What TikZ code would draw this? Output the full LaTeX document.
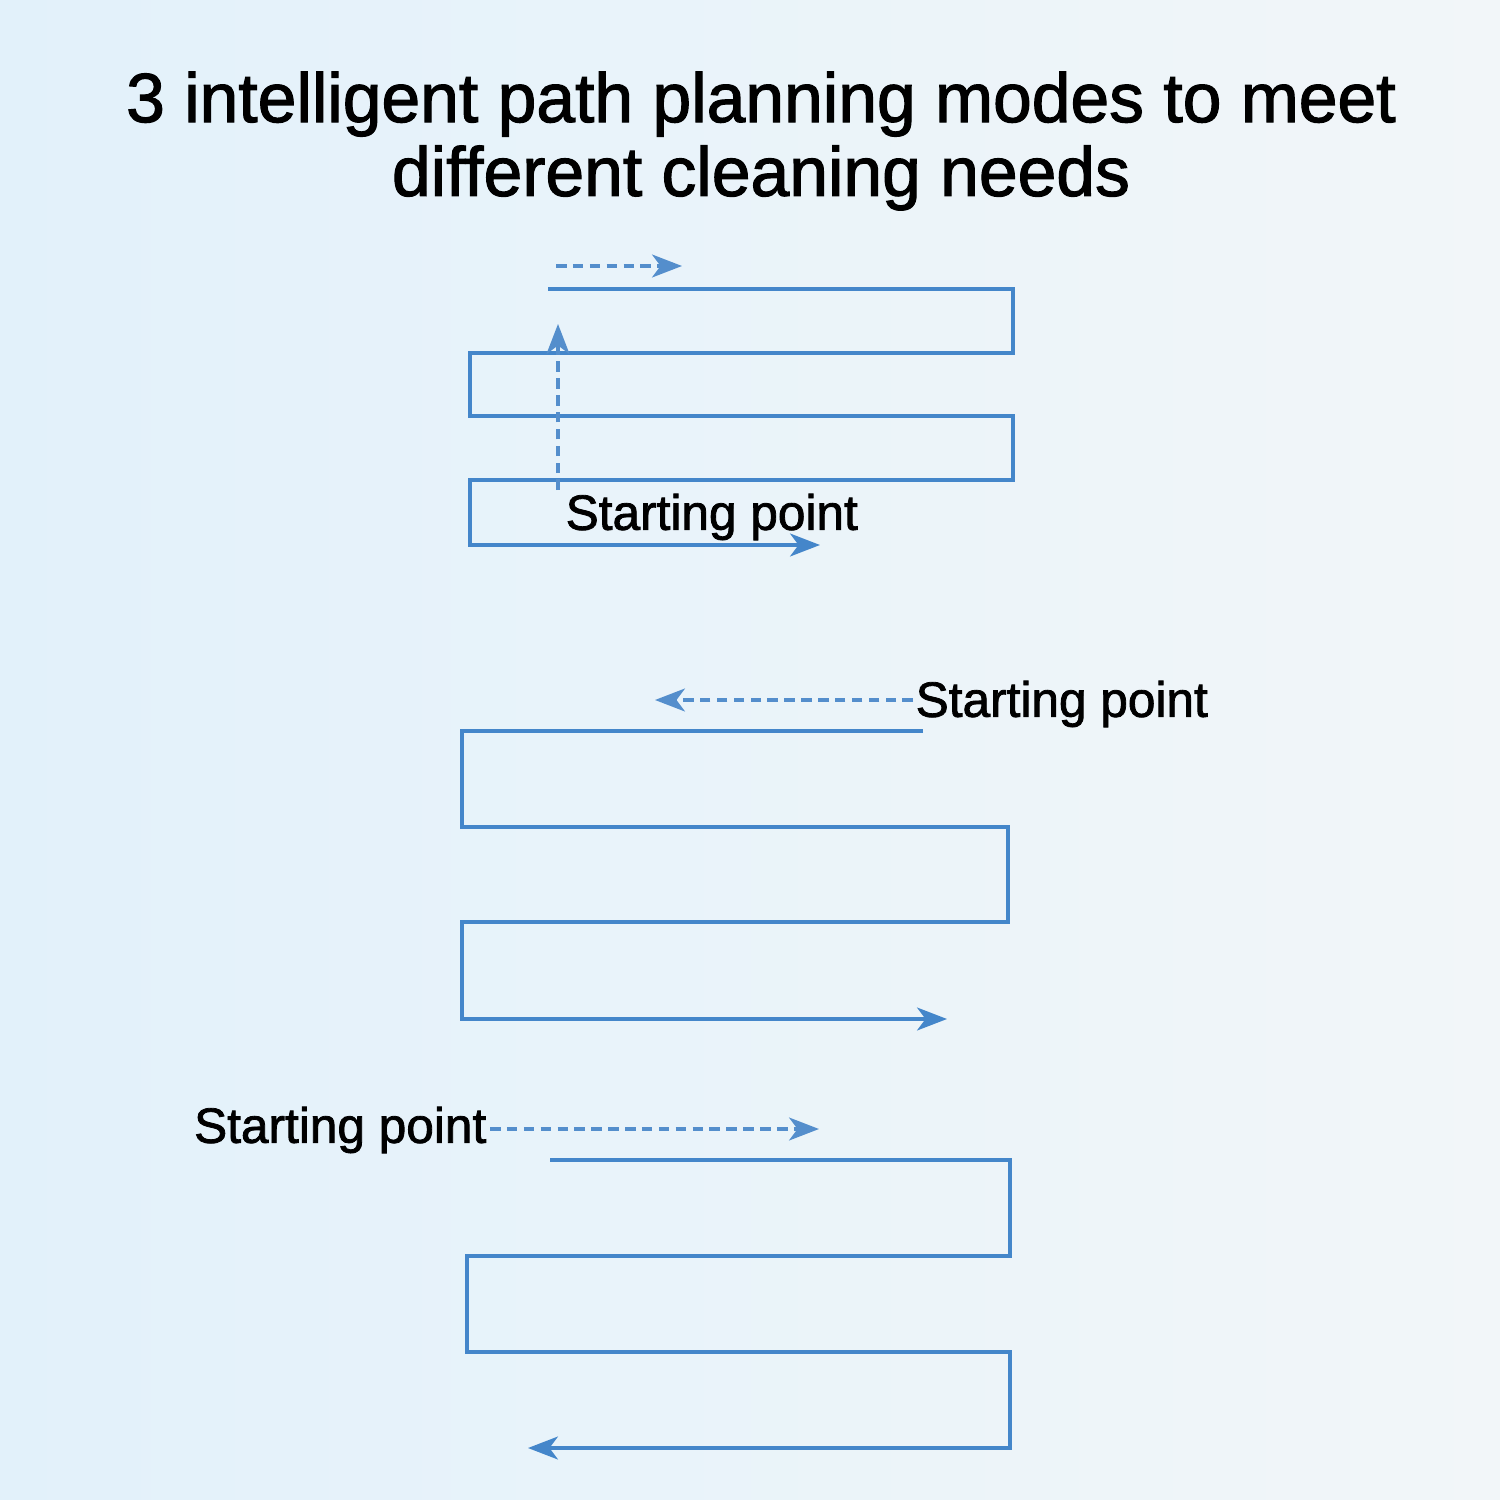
\documentclass[tikz,border=0pt]{standalone}
\usepackage{fontspec}
\setmainfont{Liberation Sans}
\newfontfamily\heavysans{Liberation Sans}[FakeBold=1.6]
\usetikzlibrary{arrows.meta}
\definecolor{pathblue}{RGB}{68,134,202}
\definecolor{dashblue}{RGB}{84,142,204}
\definecolor{bgleft}{RGB}{226,241,250}
\definecolor{bgright}{RGB}{242,246,249}
\tikzset{
  route/.style={draw=pathblue, line width=1pt, line join=miter},
  routearrow/.style={route, -{Stealth[length=8.5pt,width=6.5pt,inset=2.4pt]}},
  guide/.style={draw=dashblue, line width=1pt, dash pattern=on 3pt off 1.8pt, -{Stealth[length=8.5pt,width=6.5pt,inset=2.4pt]}},
  label/.style={font=\heavysans\fontsize{14.1}{16}\selectfont, inner sep=0pt, text=black},
}
\begin{document}
\begin{tikzpicture}[x=0.01cm, y=-0.01cm]
\useasboundingbox (0,0) rectangle (1500,1500);
\shade[left color=bgleft, right color=bgright] (0,0) rectangle (1500,1500);

% Title
\node[font=\heavysans\fontsize{19.8}{21}\selectfont, align=center, inner sep=0pt] (title) at (761,141)
  {3 intelligent path planning modes to meet\\different cleaning needs};

% ---------- Mode 1 ----------
\coordinate (a0) at (548,289);
\coordinate (a1) at (1013,289);
\coordinate (a2) at (1013,353);
\coordinate (a3) at (470,353);
\coordinate (a4) at (470,416);
\coordinate (a5) at (1013,416);
\coordinate (a6) at (1013,480);
\coordinate (a7) at (470,480);
\coordinate (a8) at (470,545);
\coordinate (a9) at (820,545);
\draw[routearrow] (a0) -- (a1) -- (a2) -- (a3) -- (a4) -- (a5) -- (a6) -- (a7) -- (a8) -- (a9);
\coordinate (ad0) at (556,266);
\coordinate (ad1) at (682,266);
\draw[guide] (ad0) -- (ad1);
\coordinate (av0) at (558,490);
\coordinate (av1) at (558,324);
\draw[guide] (av0) -- (av1);
\node[label, anchor=west] (s1) at (565,517) {Starting point};

% ---------- Mode 2 ----------
\node[label, anchor=west] (s2) at (915,704) {Starting point};
\coordinate (bd0) at (913,700);
\coordinate (bd1) at (655,700);
\draw[guide] (bd0) -- (bd1);
\coordinate (b0) at (923,731);
\coordinate (b1) at (462,731);
\coordinate (b2) at (462,827);
\coordinate (b3) at (1008,827);
\coordinate (b4) at (1008,922);
\coordinate (b5) at (462,922);
\coordinate (b6) at (462,1019);
\coordinate (b7) at (947,1019);
\draw[routearrow] (b0) -- (b1) -- (b2) -- (b3) -- (b4) -- (b5) -- (b6) -- (b7);

% ---------- Mode 3 ----------
\node[label, anchor=east] (s3) at (487,1130) {Starting point};
\coordinate (cd0) at (490,1129);
\coordinate (cd1) at (819,1129);
\draw[guide] (cd0) -- (cd1);
\coordinate (c0) at (550,1160);
\coordinate (c1) at (1010,1160);
\coordinate (c2) at (1010,1256);
\coordinate (c3) at (467,1256);
\coordinate (c4) at (467,1352);
\coordinate (c5) at (1010,1352);
\coordinate (c6) at (1010,1448);
\coordinate (c7) at (528,1448);
\draw[routearrow] (c0) -- (c1) -- (c2) -- (c3) -- (c4) -- (c5) -- (c6) -- (c7);
\end{tikzpicture}
\end{document}
